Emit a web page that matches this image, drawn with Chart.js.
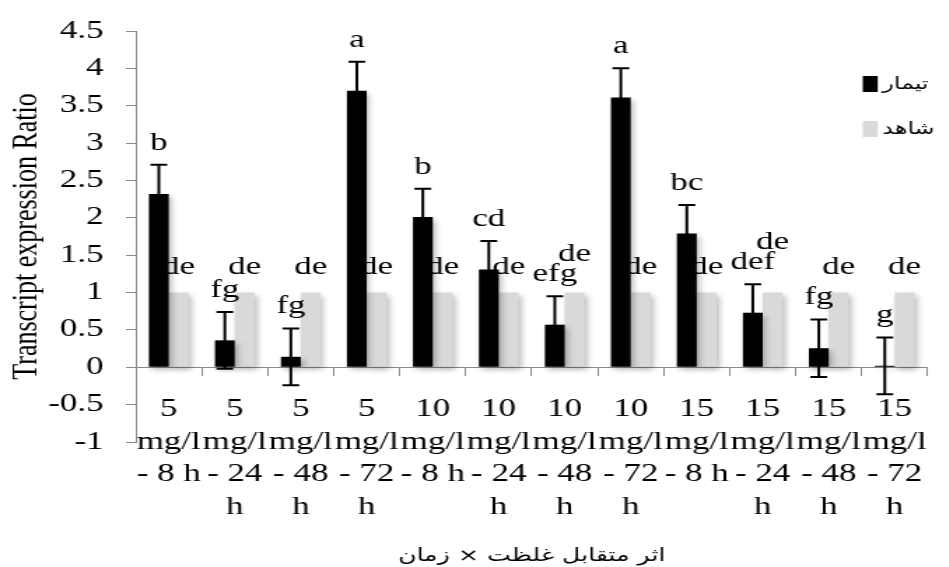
<!DOCTYPE html>
<html>
<head>
<meta charset="utf-8">
<script src="https://cdn.jsdelivr.net/npm/chart.js@4"></script>
<style>
  html, body { margin: 0; padding: 0; background: #fff; overflow: hidden; }
  #wrap { width: 949px; height: 567px; overflow: hidden; }
  /* the reference figure is horizontally stretched (~1.4x); reproduce by stretching the canvas */
  #c { width: 953px; height: 567px; display: block; }
</style>
</head>
<body>
<div id="wrap"><canvas id="c" width="681" height="567" style="width:953px;height:567px;"></canvas></div>
<script>
// ---------- data ----------
const categories = [
  "5 mg/l - 8 h", "5 mg/l - 24 h", "5 mg/l - 48 h", "5 mg/l - 72 h",
  "10 mg/l - 8 h", "10 mg/l - 24 h", "10 mg/l - 48 h", "10 mg/l - 72 h",
  "15 mg/l - 8 h", "15 mg/l - 24 h", "15 mg/l - 48 h", "15 mg/l - 72 h"
];
const tickLabels = [
  ["5", "mg/l", "- 8 h"], ["5", "mg/l", "- 24", "h"], ["5", "mg/l", "- 48", "h"], ["5", "mg/l", "- 72", "h"],
  ["10", "mg/l", "- 8 h"], ["10", "mg/l", "- 24", "h"], ["10", "mg/l", "- 48", "h"], ["10", "mg/l", "- 72", "h"],
  ["15", "mg/l", "- 8 h"], ["15", "mg/l", "- 24", "h"], ["15", "mg/l", "- 48", "h"], ["15", "mg/l", "- 72", "h"]
];
const seriesNames = ["تیمار", "شاهد"];
const treatment    = [2.32, 0.36, 0.14, 3.70, 2.01, 1.31, 0.57, 3.61, 1.79, 0.73, 0.255, 0.02];
const treatmentErr = [0.39, 0.38, 0.38, 0.39, 0.38, 0.38, 0.38, 0.39, 0.38, 0.38, 0.385, 0.38];
const control      = [1, 1, 1, 1, 1, 1, 1, 1, 1, 1, 1, 1];
const treatmentLetters = ["b", "fg", "fg", "a", "b", "cd", "efg", "a", "bc", "def", "fg", "g"];
const controlLetters   = ["de", "de", "de", "de", "de", "de", "de", "de", "de", "de", "de", "de"];
const yTitle = "Transcript expression Ratio";
const xTitle = "اثر متقابل غلظت × زمان";
const yMin = -1, yMax = 4.5, yStep = 0.5;

// ---------- styles ----------
const SERIF = '"Liberation Serif", "Times New Roman", serif';
const ARAB = '"DejaVu Sans", sans-serif';
const BLACK = '#000000';
const GREY = '#d9d9d9';
const AXIS = '#8a8a8a';
const LETTER_FONT = '25px ' + SERIF;

function treatLabelBox(chart, ctx, i) {
  const ys = chart.scales.y;
  const x = chart.getDatasetMeta(0).data[i].x;
  const base = ys.getPixelForValue(treatment[i] + treatmentErr[i]) - 15;
  const m = ctx.measureText(treatmentLetters[i]);
  return { x, base, w: m.width, top: base - m.actualBoundingBoxAscent, bottom: base + m.actualBoundingBoxDescent };
}

const lettersPlugin = {
  id: 'letters',
  beforeDatasetsDraw(chart) {
    const ctx = chart.ctx, ys = chart.scales.y;
    const m1 = chart.getDatasetMeta(1);
    ctx.save();
    ctx.font = LETTER_FONT; ctx.fillStyle = BLACK;
    ctx.textAlign = 'center'; ctx.textBaseline = 'alphabetic';
    controlLetters.forEach((t, i) => {
      const x = m1.data[i].x;
      let base = ys.getPixelForValue(1.25);
      const tb = treatLabelBox(chart, ctx, i);
      const cm = ctx.measureText(t);
      const horiz = Math.abs(x - tb.x) < (cm.width + tb.w) / 2;
      const cTop = base - cm.actualBoundingBoxAscent, cBot = base + cm.actualBoundingBoxDescent;
      if (horiz && cBot > tb.top - 1 && cTop < tb.bottom) {
        base = tb.top - 2 - cm.actualBoundingBoxDescent;
      }
      ctx.fillText(t, x, base);
    });
    ctx.restore();
    ctx.save();
    ctx.shadowColor = 'rgba(0,0,0,0.28)';
    ctx.shadowBlur = 5; ctx.shadowOffsetX = 2; ctx.shadowOffsetY = 3;
  },
  afterDatasetsDraw(chart) {
    const ctx = chart.ctx, ys = chart.scales.y;
    ctx.restore();
    const m0 = chart.getDatasetMeta(0);
    ctx.save();
    ctx.strokeStyle = BLACK; ctx.lineWidth = 2;
    treatment.forEach((v, i) => {
      const x = m0.data[i].x;
      const yt = ys.getPixelForValue(v + treatmentErr[i]);
      const yb = ys.getPixelForValue(v - treatmentErr[i]);
      ctx.beginPath();
      ctx.moveTo(x, yt); ctx.lineTo(x, yb);
      ctx.moveTo(x - 6, yt); ctx.lineTo(x + 6, yt);
      ctx.moveTo(x - 6, yb); ctx.lineTo(x + 6, yb);
      ctx.stroke();
    });
    ctx.font = LETTER_FONT; ctx.fillStyle = BLACK;
    ctx.textAlign = 'center'; ctx.textBaseline = 'alphabetic';
    treatmentLetters.forEach((t, i) => {
      const tb = treatLabelBox(chart, ctx, i);
      ctx.fillText(t, tb.x, tb.base);
    });
    ctx.restore();
  },
  afterDraw(chart) {
    // legend inside plot, top-right
    const ctx = chart.ctx;
    ctx.save();
    ctx.font = '17px ' + ARAB; ctx.textBaseline = 'middle'; ctx.textAlign = 'left';
    ctx.direction = 'ltr';
    const rows = [84, 129];
    chart.data.datasets.forEach((ds, k) => {
      const y = rows[k];
      ctx.fillStyle = ds.backgroundColor;
      ctx.fillRect(616.5, y - 8, 10.7, 16);
      ctx.fillStyle = BLACK;
      ctx.fillText(ds.label, 630.5, y + 1);
    });
    ctx.restore();
  }
};

new Chart(document.getElementById('c'), {
  type: 'bar',
  data: {
    labels: categories,
    datasets: [
      { label: seriesNames[0], data: treatment, backgroundColor: BLACK, borderWidth: 0 },
      { label: seriesNames[1], data: control, backgroundColor: GREY, borderWidth: 0 }
    ]
  },
  options: {
    responsive: false,
    devicePixelRatio: 1,
    animation: false,
    events: [],
    layout: { padding: { top: 28, right: 0, bottom: 0, left: 0 } },
    datasets: { bar: { categoryPercentage: 0.6, barPercentage: 1.0 } },
    plugins: {
      legend: { display: false },
      tooltip: { enabled: false },
      title: {
        display: true, text: xTitle, position: 'bottom', fullSize: false,
        color: BLACK, font: { family: ARAB, size: 18, weight: 'normal' },
        padding: { top: 103.4, bottom: 0 }
      }
    },
    scales: {
      x: {
        position: { y: 0 },
        offset: true,
        afterFit(scale) { scale.height = 1; },
        border: { display: true, color: AXIS, width: 1 },
        grid: { display: true, drawOnChartArea: false, drawTicks: true, tickLength: 8, color: AXIS, offset: true },
        ticks: {
          autoSkip: false, maxRotation: 0, minRotation: 0, padding: 18, color: BLACK,
          font: { family: SERIF, size: 25, lineHeight: 1.3 },
          callback: (v, i) => tickLabels[i]
        }
      },
      y: {
        min: yMin, max: yMax,
        afterFit(scale) { scale.width = 97; },
        border: { display: true, color: AXIS, width: 1 },
        grid: { display: true, drawOnChartArea: false, drawTicks: true, tickLength: 7, color: AXIS },
        ticks: {
          stepSize: yStep, padding: 16, color: BLACK, font: { family: SERIF, size: 25 },
          callback: (v) => String(Math.round(v * 10) / 10)
        },
        title: {
          display: true, text: yTitle, color: BLACK,
          font: { family: SERIF, size: 26 }, padding: { top: 4, bottom: 0 }
        }
      }
    }
  },
  plugins: [lettersPlugin]
});
</script>
</body>
</html>
